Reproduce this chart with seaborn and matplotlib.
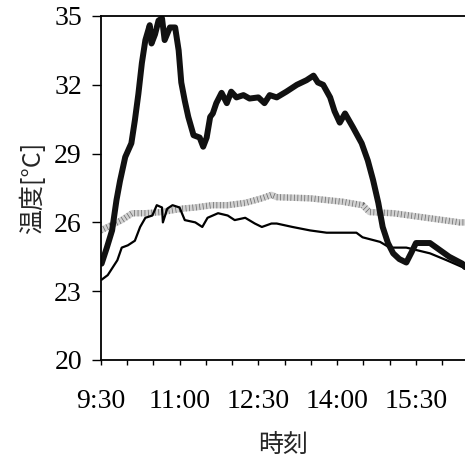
import matplotlib
matplotlib.use("Agg")
import matplotlib.pyplot as plt
import seaborn as sns
import pandas as pd

# ---- data ----
thick_time = ["9:31", "9:37", "9:43", "9:48", "9:52", "9:58", "10:05", "10:09", "10:13", "10:17",
              "10:21", "10:26", "10:28", "10:32", "10:36", "10:40", "10:43", "10:49", "10:55", "10:59",
              "11:02", "11:06", "11:10", "11:16", "11:23", "11:27", "11:31", "11:35", "11:38", "11:42",
              "11:48", "11:54", "11:59", "12:05", "12:13", "12:20", "12:30", "12:37", "12:43", "12:51",
              "13:02", "13:14", "13:25", "13:33", "13:38", "13:44", "13:52", "13:57", "14:03", "14:09",
              "14:18", "14:28", "14:35", "14:41", "14:47", "14:52", "14:58", "15:04", "15:11", "15:19",
              "15:25", "15:30", "15:46", "15:57", "16:08", "16:23", "16:26"]
thick_temp = [24.2, 24.9, 25.65, 26.97, 27.8, 28.85, 29.45, 30.45, 31.6, 32.95,
              33.95, 34.6, 33.8, 34.2, 34.8, 34.9, 33.95, 34.5, 34.5, 33.5,
              32.1, 31.3, 30.6, 29.8, 29.7, 29.3, 29.7, 30.6, 30.75, 31.2,
              31.65, 31.2, 31.7, 31.45, 31.55, 31.4, 31.45, 31.2, 31.55, 31.45,
              31.7, 32.0, 32.2, 32.4, 32.1, 32.0, 31.45, 30.85, 30.35, 30.75,
              30.15, 29.45, 28.7, 27.85, 26.85, 25.8, 25.1, 24.65, 24.4, 24.25,
              24.7, 25.1, 25.1, 24.8, 24.5, 24.2, 24.05]

thin_time = ["9:31", "9:38", "9:49", "9:54", "10:01", "10:09", "10:15", "10:21", "10:29", "10:34",
             "10:40", "10:41", "10:46", "10:52", "11:00", "11:06", "11:18", "11:26", "11:32", "11:44",
             "11:55", "12:03", "12:15", "12:26", "12:34", "12:45", "12:51", "13:09", "13:29", "13:48",
             "14:06", "14:22", "14:29", "14:49", "15:00", "15:19", "15:46", "16:05", "16:26"]
thin_temp = [23.5, 23.7, 24.35, 24.9, 25.0, 25.2, 25.8, 26.2, 26.3, 26.75,
             26.65, 26.0, 26.6, 26.75, 26.65, 26.1, 26.0, 25.8, 26.2, 26.4,
             26.3, 26.1, 26.2, 25.95, 25.8, 25.95, 25.95, 25.8, 25.65, 25.55,
             25.55, 25.55, 25.35, 25.15, 24.9, 24.9, 24.65, 24.35, 24.0]

gray_time = ["9:30", "9:38", "9:54", "10:06", "10:21", "10:40", "11:03", "11:18", "11:37", "11:55",
             "12:15", "12:34", "12:45", "12:51", "13:29", "14:06", "14:29", "14:37", "15:04", "15:42",
             "16:20", "16:26"]
gray_temp = [25.65, 25.8, 26.1, 26.4, 26.4, 26.45, 26.6, 26.65, 26.75, 26.75,
             26.85, 27.05, 27.2, 27.1, 27.05, 26.9, 26.75, 26.45, 26.4, 26.2,
             26.0, 26.0]

x_tick_labels = ["9:30", "11:00", "12:30", "14:00", "15:30"]
y_ticks = [20, 23, 26, 29, 32, 35]
x_label = "時刻"
y_label = "温度[°C]"


def to_min(s):
    h, m = s.split(":")
    return int(h) * 60 + int(m)


def frame(times, temps, name):
    return pd.DataFrame({"t": [to_min(s) for s in times], "temp": temps, "series": name})


sns.set_style("ticks")
plt.rcParams["font.family"] = ["Liberation Serif", "Noto Sans CJK JP", "DejaVu Sans"]

fig = plt.figure(figsize=(4.65, 4.57), dpi=100)
ax = fig.add_axes([0.2166, 0.2123, 0.7834, 0.7527])

g = frame(gray_time, gray_temp, "gray")
sns.lineplot(data=g, x="t", y="temp", ax=ax, color="#d2d2d2", lw=4.6, sort=False, estimator=None)
sns.lineplot(data=g, x="t", y="temp", ax=ax, color="#6e6e6e", lw=4.6, sort=False, estimator=None)
ax.lines[-1].set_dashes((0.12, 0.42))

th = frame(thin_time, thin_temp, "thin")
sns.lineplot(data=th, x="t", y="temp", ax=ax, color="black", lw=1.6, sort=False, estimator=None)

tk = frame(thick_time, thick_temp, "thick")
sns.lineplot(data=tk, x="t", y="temp", ax=ax, color="#111111", lw=4.3, sort=False, estimator=None)

ax.set_xlim(to_min("9:30"), to_min("16:26"))
ax.set_ylim(20, 35)
ax.set_yticks(y_ticks)
ax.set_yticklabels([str(v) for v in y_ticks])
major = [to_min(s) for s in x_tick_labels]
ax.set_xticks(major)
ax.set_xticklabels(x_tick_labels)
ax.set_xticks(list(range(to_min("9:30"), to_min("16:30"), 30)), minor=True)

ax.tick_params(axis="y", direction="out", length=6.5, width=1.0, pad=7, labelsize=20, colors="black")
ax.tick_params(axis="x", which="both", direction="out", length=3.6, width=1.0, pad=17,
               labelsize=20, colors="black")

for lab in ax.get_xticklabels() + ax.get_yticklabels():
    lab.set_family("Liberation Serif")

ax.set_xlabel(x_label, fontsize=18, family=["Noto Sans CJK JP", "DejaVu Sans"], labelpad=13)
ax.set_ylabel(y_label, fontsize=18, family=["Noto Sans CJK JP", "DejaVu Sans"], labelpad=6)

for side in ["top", "left", "bottom"]:
    ax.spines[side].set_visible(True)
    ax.spines[side].set_color("black")
    ax.spines[side].set_linewidth(1.3)
ax.spines["right"].set_visible(False)
ax.set_facecolor("white")
fig.patch.set_facecolor("white")

fig.savefig("out.png", dpi=100, facecolor="white")
